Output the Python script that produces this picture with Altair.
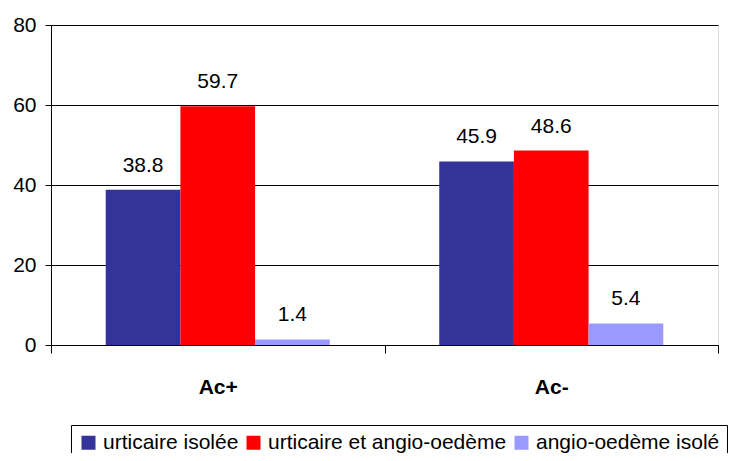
import altair as alt
import pandas as pd

categories = ["Ac+", "Ac-"]
series = ["urticaire isolée", "urticaire et angio-oedème", "angio-oedème isolé"]
urticaire_isolee = [38.8, 45.9]
urticaire_angio = [59.7, 48.6]
angio_isole = [1.4, 5.4]
colors = ["#333399", "#FF0000", "#9999FF"]
y_ticks = [0, 20, 40, 60, 80]

rows = []
for s, vals in zip(series, [urticaire_isolee, urticaire_angio, angio_isole]):
    for c, v in zip(categories, vals):
        rows.append({"cat": c, "serie": s, "val": v, "label": f"{v:.1f}"})
df = pd.DataFrame(rows)

FONT = "Liberation Sans"

x = alt.X(
    "cat:N", sort=categories,
    scale=alt.Scale(paddingInner=0, paddingOuter=0),
    axis=alt.Axis(title=None, labelAngle=0, labelFontWeight="bold", labelFontSize=21,
                  labelFont=FONT, labelColor="black", tickBand="extent", tickSize=8,
                  tickColor="black", domainColor="black", labelPadding=23, grid=False),
)
xo = alt.XOffset("serie:N", sort=series, scale=alt.Scale(paddingOuter=0.733, paddingInner=0))
y = alt.Y(
    "val:Q",
    scale=alt.Scale(domain=[0, 80], nice=False),
    axis=alt.Axis(title=None, values=y_ticks, labelFontSize=21, labelFont=FONT,
                  labelColor="black", tickColor="black", tickSize=6, domainColor="black",
                  gridColor="black", gridOpacity=1, labelPadding=9),
)

bars = alt.Chart(df).mark_bar().encode(
    x=x, xOffset=xo, y=y,
    color=alt.Color(
        "serie:N", sort=series,
        scale=alt.Scale(domain=series, range=colors),
        legend=alt.Legend(orient="none", legendX=20, legendY=400, direction="horizontal",
                          title=None, symbolType="square", symbolSize=196,
                          symbolStrokeWidth=0, labelFontSize=21, labelFont=FONT,
                          labelColor="black", strokeColor="black", fillColor="white",
                          padding=7, columnPadding=4, labelOffset=4, columns=3,
                          labelLimit=0, symbolOpacity=1),
    ),
)

labels = alt.Chart(df).mark_text(dy=-18, baseline="alphabetic", fontSize=21, font=FONT,
                                 color="black").encode(
    x=x, xOffset=xo, y=y, text="label:N"
)

chart = (bars + labels).properties(
    width=667, height=320,
    autosize=alt.AutoSizeParams(type="none"),
    padding={"left": 43, "top": 17, "right": 10, "bottom": 108},
).configure_view(stroke=None).configure(background="white")

chart.save("out.html", embed_options={"renderer": "svg", "actions": False})
